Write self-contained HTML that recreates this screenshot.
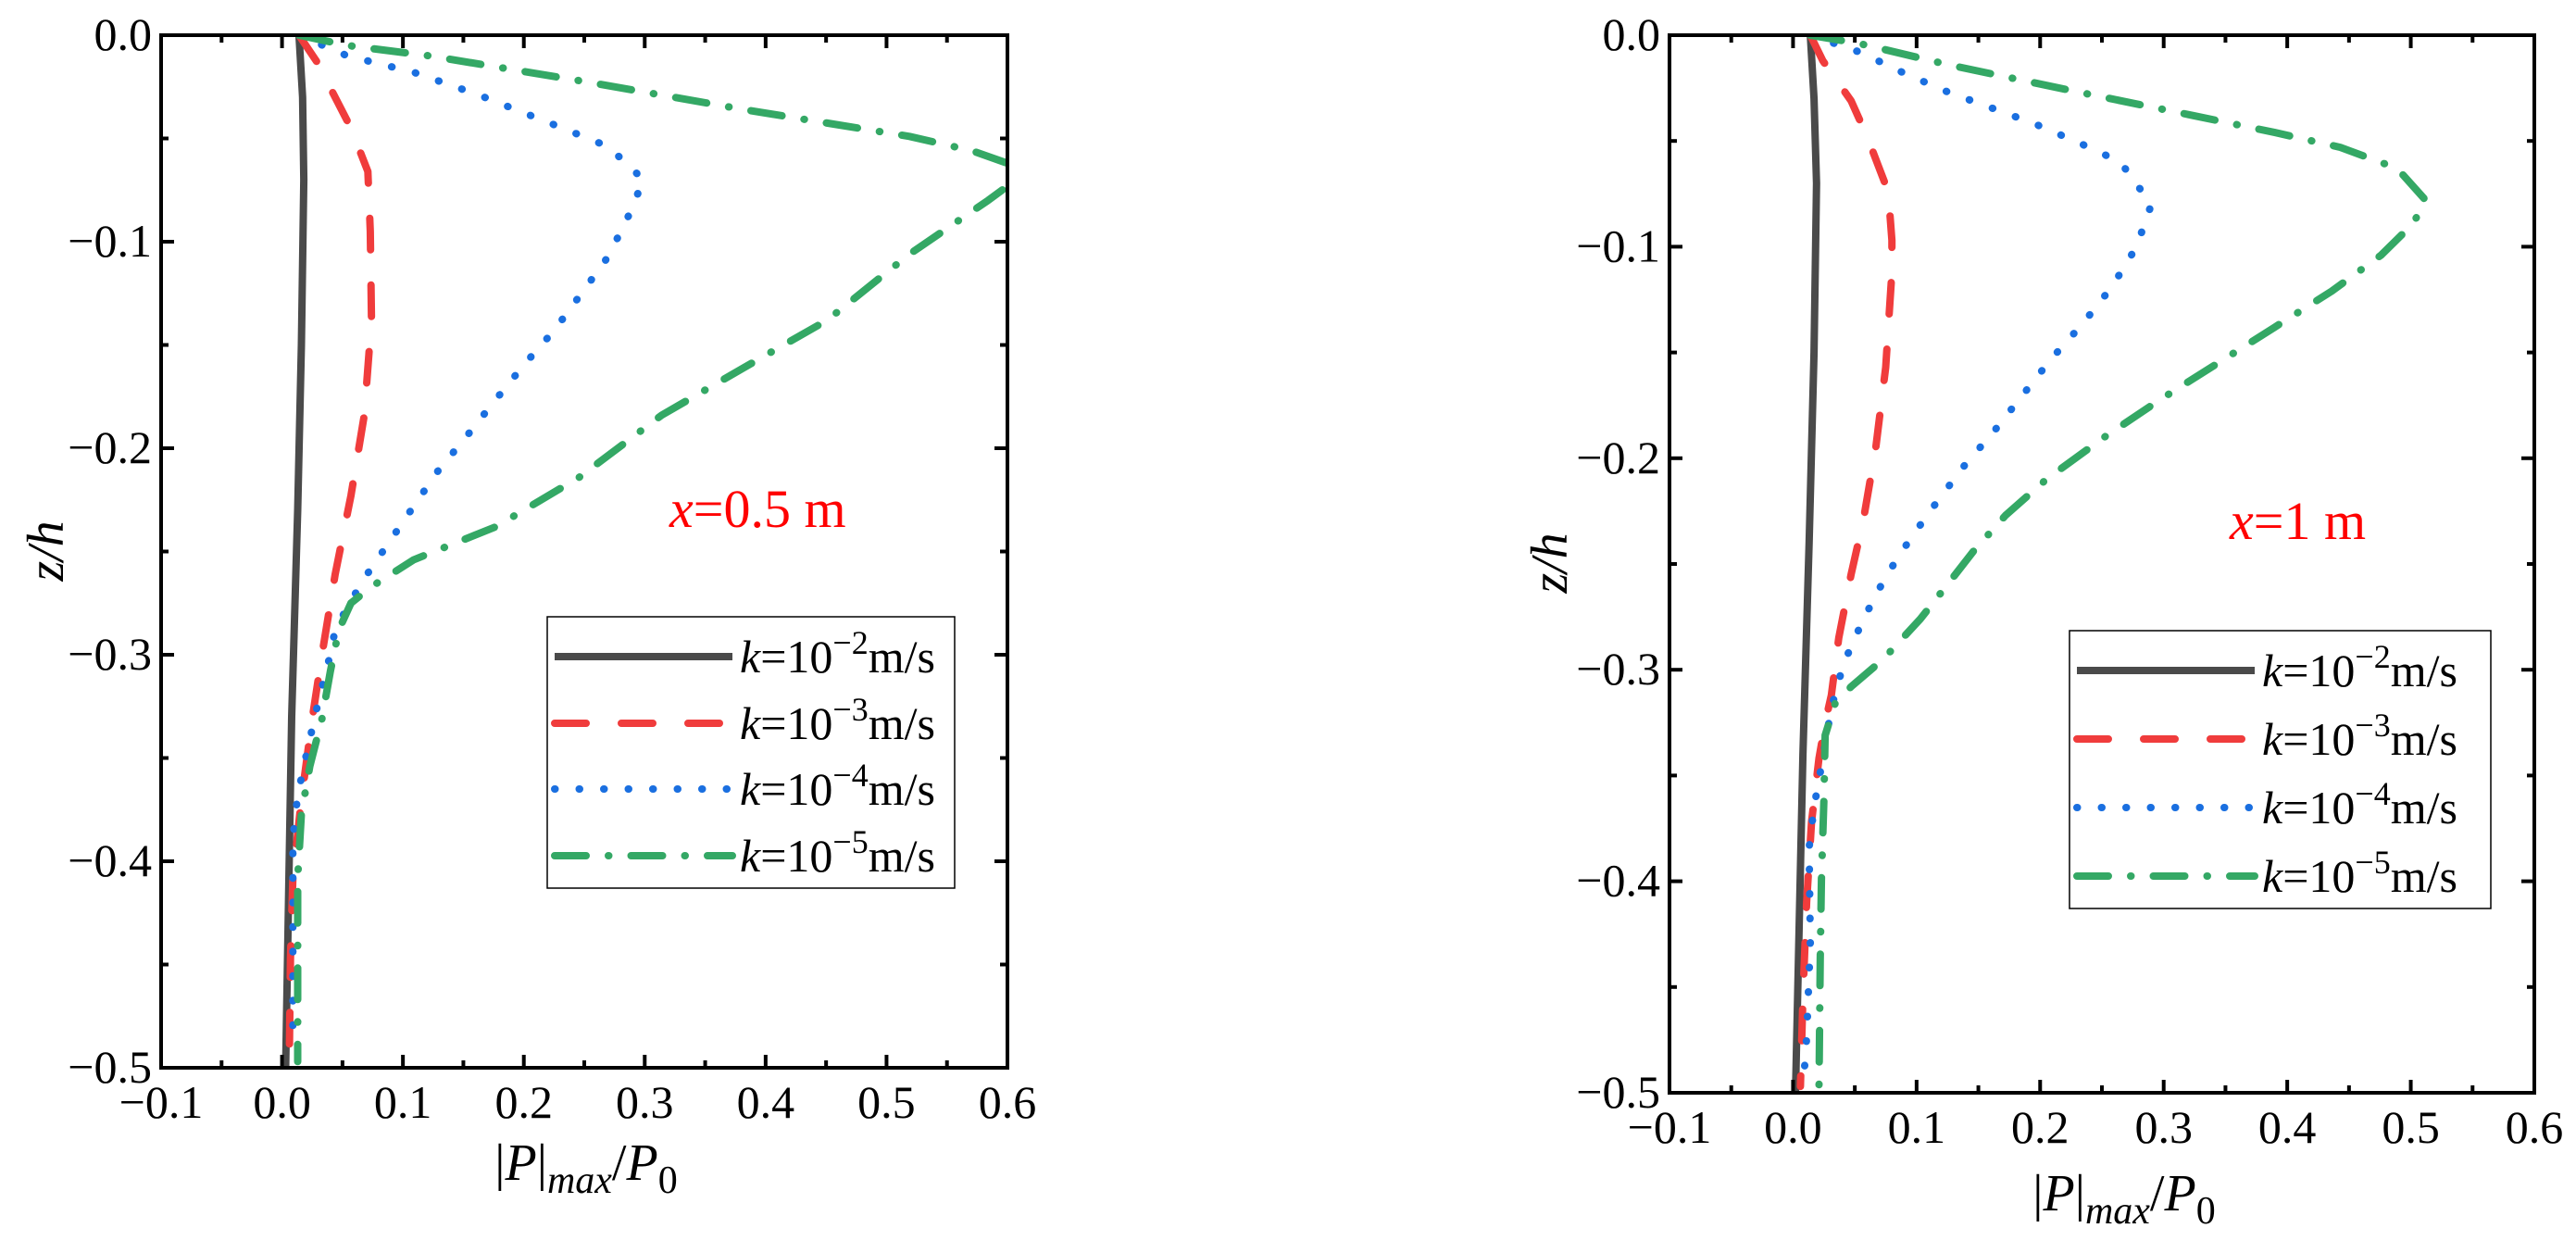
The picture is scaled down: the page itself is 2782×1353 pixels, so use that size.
<!DOCTYPE html>
<html><head><meta charset="utf-8"><style>
html,body{margin:0;padding:0;background:#fff}
svg{display:block}
text{font-family:"Liberation Serif",serif}
</style></head><body>
<svg id="fig" width="2782" height="1353" viewBox="0 0 2782 1353" xmlns="http://www.w3.org/2000/svg"></svg>
<script>
// Left panel data (x = 0.5 m)
const L_k2_x=[0.014,0.017,0.018,0.016,0.013,0.008,0.003];
const L_k2_z=[0,-0.03,-0.07,-0.15,-0.23,-0.33,-0.5];
const L_k3_x=[0.014,0.029,0.057,0.071,0.073,0.074,0.068,0.057,0.044,0.033,0.025,0.016,0.009,0.007,0.006];
const L_k3_z=[0,-0.013,-0.045,-0.066,-0.095,-0.138,-0.184,-0.223,-0.261,-0.300,-0.331,-0.370,-0.408,-0.447,-0.497];
const L_k4_x=[0.014,0.054,0.109,0.163,0.232,0.270,0.299,0.287,0.270,0.249,0.225,0.201,0.176,0.153,0.129,0.109,0.088,0.068,0.054,0.044,0.039,0.030,0.021,0.013,0.009,0.009,0.009];
const L_k4_z=[0,-0.010,-0.018,-0.029,-0.045,-0.054,-0.070,-0.087,-0.107,-0.124,-0.143,-0.159,-0.177,-0.194,-0.211,-0.228,-0.246,-0.263,-0.277,-0.288,-0.302,-0.323,-0.346,-0.368,-0.389,-0.428,-0.486];
const L_k5_x=[0.014,0.054,0.122,0.246,0.382,0.519,0.571,0.600,0.612,0.584,0.519,0.451,0.382,0.314,0.246,0.177,0.109,0.074,0.057,0.047,0.040,0.033,0.023,0.016,0.013,0.013,0.013];
const L_k5_z=[0,-0.005,-0.010,-0.022,-0.036,-0.049,-0.056,-0.062,-0.068,-0.080,-0.106,-0.138,-0.161,-0.184,-0.214,-0.238,-0.254,-0.267,-0.275,-0.288,-0.308,-0.331,-0.354,-0.377,-0.408,-0.447,-0.497];
// Right panel data (x = 1 m)
const R_k2_x=[0.014,0.017,0.019,0.017,0.013,0.008,0.002];
const R_k2_z=[0,-0.03,-0.07,-0.15,-0.24,-0.34,-0.5];
const R_k3_x=[0.014,0.024,0.047,0.060,0.077,0.080,0.080,0.075,0.067,0.057,0.047,0.037,0.031,0.026,0.021,0.015,0.011,0.008,0.006];
const R_k3_z=[0,-0.012,-0.031,-0.048,-0.074,-0.097,-0.112,-0.157,-0.195,-0.229,-0.255,-0.285,-0.312,-0.325,-0.342,-0.372,-0.410,-0.455,-0.497];
const R_k4_x=[0.014,0.054,0.090,0.126,0.159,0.196,0.232,0.265,0.290,0.278,0.258,0.235,0.209,0.186,0.163,0.138,0.116,0.095,0.075,0.057,0.041,0.031,0.024,0.017,0.013,0.014,0.011,0.009];
const R_k4_z=[0,-0.008,-0.018,-0.027,-0.034,-0.042,-0.051,-0.060,-0.080,-0.100,-0.119,-0.136,-0.153,-0.170,-0.187,-0.204,-0.221,-0.238,-0.256,-0.276,-0.297,-0.318,-0.342,-0.365,-0.384,-0.429,-0.474,-0.491];
const R_k5_x=[0.014,0.054,0.126,0.232,0.324,0.390,0.443,0.489,0.512,0.502,0.476,0.436,0.390,0.344,0.298,0.252,0.205,0.172,0.146,0.126,0.103,0.073,0.047,0.034,0.026,0.025,0.023,0.022,0.021];
const R_k5_z=[0,-0.004,-0.014,-0.027,-0.038,-0.046,-0.053,-0.063,-0.078,-0.089,-0.104,-0.121,-0.138,-0.155,-0.172,-0.190,-0.210,-0.227,-0.244,-0.259,-0.276,-0.295,-0.308,-0.316,-0.331,-0.361,-0.399,-0.437,-0.5];
const xTickLabels=["−0.1","0.0","0.1","0.2","0.3","0.4","0.5","0.6"];
const yTickLabels=["0.0","−0.1","−0.2","−0.3","−0.4","−0.5"];
const seriesNames=["−2","−3","−4","−5"];

const NS="http://www.w3.org/2000/svg";
const svg=document.getElementById('fig');
function mk(tag,attrs,parent){const e=document.createElementNS(NS,tag);for(const k in attrs)e.setAttribute(k,attrs[k]);(parent||svg).appendChild(e);return e;}
const styles=[
 {stroke:"#4a4a4a",dash:"",cap:"butt"},
 {stroke:"#f03c3c",dash:"34 38",cap:"round"},
 {stroke:"#1a6fe0",dash:"0.5 26",cap:"round"},
 {stroke:"#34a865",dash:"34 24 0.5 24",cap:"round"}
];

function panel(cfg,idx){
  const g=mk('g',{});
  
  
  const X=v=>cfg.x0+(v+0.1)/0.7*(cfg.x1-cfg.x0);
  const Y=v=>cfg.y0+(-v)/0.5*(cfg.y1-cfg.y0);
  const cp=mk('clipPath',{id:'clip'+idx},g);
  mk('rect',{x:cfg.x0,y:cfg.y0,width:cfg.x1-cfg.x0,height:cfg.y1-cfg.y0},cp);
  const sg=mk('g',{'clip-path':'url(#clip'+idx+')'},g);
  cfg.series.forEach((s,i)=>{
    const d=s[0].map((v,j)=>(j?'L':'M')+X(v).toFixed(1)+' '+Y(s[1][j]).toFixed(1)).join(' ');
    const p=mk('path',{d:d,fill:'none',stroke:styles[i].stroke,'stroke-width':8,'stroke-dasharray':styles[i].dash,'stroke-linecap':styles[i].cap,'stroke-linejoin':'round'},sg);
    
    
  });
  const fr=mk('rect',{x:cfg.x0,y:cfg.y0,width:cfg.x1-cfg.x0,height:cfg.y1-cfg.y0,fill:'none',stroke:'#000','stroke-width':4},g);
  
  
  for(let i=0;i<=14;i++){
    const v=-0.1+i*0.05, px=X(v), len=i%2?8:14;
    mk('line',{x1:px,x2:px,y1:cfg.y1,y2:cfg.y1-len,stroke:'#000','stroke-width':4},g);
    mk('line',{x1:px,x2:px,y1:cfg.y0,y2:cfg.y0+len,stroke:'#000','stroke-width':4},g);
  }
  xTickLabels.forEach((t,i)=>{
    const e=mk('text',{x:X(-0.1+i*0.1),y:cfg.y1+54,'text-anchor':'middle','font-size':50},g);
    e.textContent=t;
    
    
  });
  for(let i=0;i<=10;i++){
    const v=-i*0.05, py=Y(v), len=i%2?8:14;
    mk('line',{x1:cfg.x0,x2:cfg.x0+len,y1:py,y2:py,stroke:'#000','stroke-width':4},g);
    mk('line',{x1:cfg.x1,x2:cfg.x1-len,y1:py,y2:py,stroke:'#000','stroke-width':4},g);
  }
  yTickLabels.forEach((t,i)=>{
    const e=mk('text',{x:cfg.x0-10,y:Y(-i*0.1)+16,'text-anchor':'end','font-size':50},g);
    e.textContent=t;
    
    
  });
  const xt=mk('text',{x:cfg.xtx,y:cfg.xty,'text-anchor':'middle','font-size':56},g);
  xt.innerHTML='|<tspan font-style="italic">P</tspan>|<tspan font-style="italic" font-size="42" dy="14">max</tspan><tspan dy="-14">/</tspan><tspan font-style="italic">P</tspan><tspan font-size="42" dy="14">0</tspan>';
  
  
  const yt=mk('text',{x:0,y:0,'text-anchor':'middle','font-size':56,'font-style':'italic',transform:'translate('+cfg.ytx+','+cfg.yty+') rotate(-90)'},g);
  yt.textContent='z/h';
  
  
  const an=mk('text',{x:cfg.anx,y:cfg.any,'font-size':58,fill:'#ff0000'},g);
  an.innerHTML='<tspan font-style="italic">x</tspan>='+cfg.ant;
  
  
  const lg=mk('g',{},g);
  
  
  mk('rect',{x:cfg.lx0,y:cfg.ly0,width:cfg.lx1-cfg.lx0,height:cfg.ly1-cfg.ly0,fill:'#fff',stroke:'#000','stroke-width':1.5},lg);
  cfg.lrows.forEach((ry,i)=>{
    const en=mk('g',{},lg);
    
    
    mk('line',{x1:cfg.lx0+8,x2:cfg.lx0+200,y1:ry,y2:ry,stroke:styles[i].stroke,'stroke-width':8,'stroke-dasharray':styles[i].dash,'stroke-linecap':styles[i].cap},en);
    const t=mk('text',{x:cfg.lx0+208,y:ry+17,'font-size':50},en);
    t.innerHTML='<tspan font-style="italic">k</tspan>=10<tspan font-size="36" dy="-20">'+seriesNames[i]+'</tspan><tspan dy="20">m/s</tspan>';
  });
}
panel({name:'chart-x-0-5m',x0:174,x1:1088,y0:38,y1:1153,
  series:[[L_k2_x,L_k2_z],[L_k3_x,L_k3_z],[L_k4_x,L_k4_z],[L_k5_x,L_k5_z]],
  xtx:633,xty:1274,ytx:68,yty:595,anx:723,any:569,ant:'0.5 m',
  lx0:591,lx1:1031,ly0:666,ly1:959,lrows:[709,781,852,924]},0);
panel({name:'chart-x-1m',x0:1803,x1:2737,y0:38,y1:1180,
  series:[[R_k2_x,R_k2_z],[R_k3_x,R_k3_z],[R_k4_x,R_k4_z],[R_k5_x,R_k5_z]],
  xtx:2294,xty:1307,ytx:1692,yty:608,anx:2408,any:582,ant:'1 m',
  lx0:2235,lx1:2690,ly0:681,ly1:981,lrows:[724,798,872,946]},1);
</script>
</body></html>
